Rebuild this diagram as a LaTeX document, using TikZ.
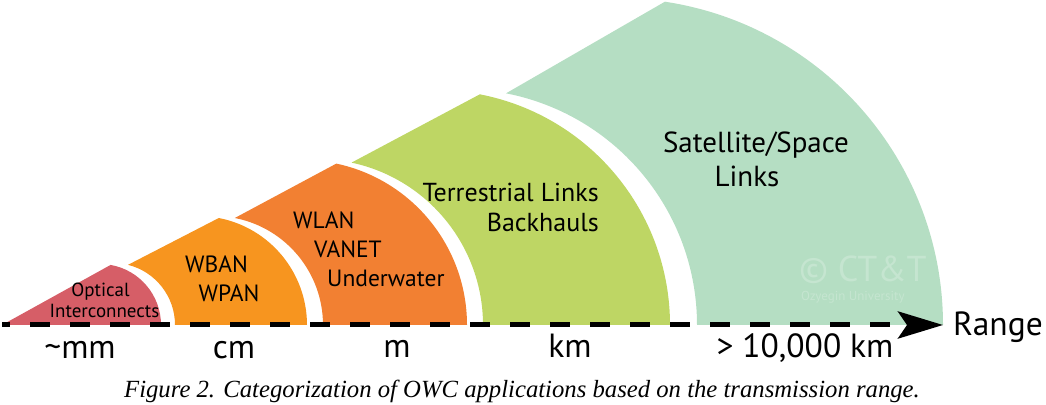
\documentclass[tikz,border=0pt]{standalone}
\usepackage{fontspec}
\newfontfamily\labelfont{PT Sans}
\newfontfamily\capfont{Liberation Serif}
\usetikzlibrary{arrows.meta, positioning, calc}
\definecolor{optred}{RGB}{214,94,103}
\definecolor{wbanorange}{RGB}{247,149,31}
\definecolor{wlanorange}{RGB}{242,128,50}
\definecolor{terrgreen}{RGB}{190,214,100}
\definecolor{satteal}{RGB}{181,222,195}
\definecolor{markteal}{RGB}{197,229,208}
\tikzset{
  inlbl/.style={font=\labelfont\fontsize{29}{34}\selectfont, inner sep=0pt, anchor=base},
  midlbl/.style={font=\labelfont\fontsize{23.5}{28}\selectfont, inner sep=0pt, anchor=base},
  smalllbl/.style={font=\labelfont\fontsize{19}{21}\selectfont, inner sep=0pt, anchor=base},
  rangelbl/.style={font=\labelfont\fontsize{33.5}{38}\selectfont, inner sep=0pt, anchor=base},
  wmarklbl/.style={text=markteal, inner sep=0pt, anchor=base west, text depth=0pt},
  axis/.style={line width=5pt, dash pattern=on 20pt off 20pt, dash phase=12pt,
    -{Stealth[length=45pt, width=27pt, inset=9pt]}},
  caption/.style={font=\capfont\itshape\fontsize{24.7}{28}\selectfont, inner sep=0pt, anchor=base}
}

\begin{document}
\begin{tikzpicture}[x=1pt, y=1pt]
\useasboundingbox (0,-79) rectangle (1046,325);

% ---- bandas (de la mas grande a la mas chica) ----
\fill[satteal] (697,0) arc[start angle=0, end angle=79, radius=236pt]
  -- ($(616,0)+(81.4:327)$) arc[start angle=81.4, end angle=0, radius=327pt] -- cycle;
\fill[terrgreen] (483,0) arc[start angle=0, end angle=78, radius=166pt]
  -- ($(435,0)+(79:235)$) arc[start angle=79, end angle=0, radius=235pt] -- cycle;
\fill[wlanorange] (323,0) arc[start angle=0, end angle=79, radius=109pt]
  -- ($(302,0)+(78:165)$) arc[start angle=78, end angle=0, radius=165pt] -- cycle;
\fill[wbanorange] (175,0) arc[start angle=0, end angle=76, radius=62pt]
  -- ($(198,0)+(79:109)$) arc[start angle=79, end angle=0, radius=109pt] -- cycle;
\fill[optred] (2,0) -- ($(100,0)+(80:61)$) arc[start angle=80, end angle=0, radius=61pt] -- cycle;

% ---- marca de agua ----
\node[wmarklbl, font=\labelfont\fontsize{36}{36}\selectfont] (wmark) at (799,43) {\textcopyright{} CT\&T};
\node[wmarklbl, text height=9pt, font=\labelfont\fontsize{13}{13}\selectfont] (wuni) at (801,24) {Ozyegin University};

% ---- textos dentro de las bandas ----
\node[smalllbl] (optical) at (100.5,28) {Optical};
\node[smalllbl] (interc) at (104.5,7) {Interconnects};

\node[midlbl] (wban) at (216.5,52) {WBAN};
\node[midlbl] (wpan) at (229,23) {WPAN};

\node[midlbl, anchor=base west] (wlan) at (293,96) {WLAN};
\node[midlbl, anchor=base west] (vanet) at (314,67) {VANET};
\node[midlbl, anchor=base west] (underw) at (327,38) {Underwater};

\node[inlbl, anchor=base east, font=\labelfont\fontsize{26}{30}\selectfont] (terr) at (599,123) {Terrestrial Links};
\node[inlbl, anchor=base east, font=\labelfont\fontsize{26}{30}\selectfont] (backh) at (599,93) {Backhauls};

\node[inlbl] (sat) at (756,172) {Satellite/Space};
\node[inlbl] (satlinks) at (747,138) {Links};

% ---- eje de alcance ----
\coordinate (origin) at (2,0);
\coordinate (tip) at (943,0);
\draw[axis] (origin) -- (tip);
\node[rangelbl, anchor=base west] (range) at (953,-10) {Range};

\node[rangelbl] (mm) at (80,-33) {\textasciitilde mm};
\node[rangelbl] (cm) at (234,-33) {cm};
\node[rangelbl] (m) at (397,-32) {m};
\node[rangelbl] (km) at (570,-32) {km};
\node[rangelbl] (far) at (805,-32) {> 10,000 km};

% ---- leyenda ----
\node[caption] (cap) at (522,-72) {Figure 2. Categorization of OWC applications based on the transmission range.};

\end{tikzpicture}
\end{document}
